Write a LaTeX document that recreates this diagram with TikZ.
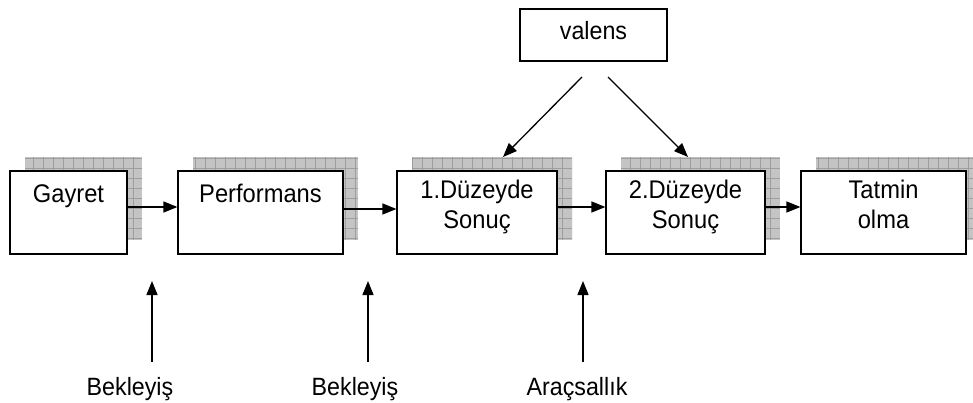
\documentclass[tikz,border=0pt]{standalone}
\usepackage{fontspec}
\setmainfont{Liberation Sans}[FakeStretch=0.93]
\usetikzlibrary{arrows.meta}
\definecolor{shadegray}{HTML}{C4C4C4}
\definecolor{shadeline}{HTML}{9E9E9E}
\newcommand\capstrut{\rule{0pt}{23pt}}
\tikzset{
  stagebox/.style={draw=black, line width=1.2pt, fill=white, minimum height=83pt, inner sep=0pt},
  shadebox/.style={fill=shadegray, minimum height=82pt, inner sep=0pt,
    path picture={\draw[shadeline, line width=0.7pt, step=10pt]
      (path picture bounding box.south west) grid (path picture bounding box.north east);}},
  caption/.style={font=\fontsize{25.5}{30}\selectfont, align=center, anchor=north,
    inner sep=0pt, execute at begin node=\capstrut},
  plainlabel/.style={font=\fontsize{25}{28}\selectfont, anchor=base, inner sep=0pt},
  flow/.style={line width=1.3pt, -{Triangle[length=14pt,width=11pt]}},
}
% #1 name, #2 centre x, #3 width, #4 caption
\newcommand\stage[4]{%
  \node[shadebox, minimum width=#3pt] (#1s) at (#2+15, 198.5) {};
  \node[stagebox, minimum width=#3pt] (#1) at (#2, 212.5) {};
  \node[caption] (#1t) at ([yshift=-9pt]#1.north) {#4};
}
\begin{document}
\begin{tikzpicture}[x=1pt, y=-1pt]
  \useasboundingbox (0,0) rectangle (973,403);
  \clip (0,0) rectangle (973,403);

  % process chain
  \stage{gay}{68.5}{117}{Gayret}
  \stage{perf}{260.5}{165}{Performans}
  \stage{first}{477}{160}{1.Düzeyde\\Sonuç}
  \stage{second}{685.5}{159}{2.Düzeyde\\Sonuç}
  \stage{sat}{883.5}{165}{Tatmin\\olma}

  \draw[flow] ([yshift=5.5pt]gay.east) -- ([yshift=5.5pt]perf.west);
  \draw[flow] ([yshift=3.5pt]perf.east) -- ([yshift=3.5pt]first.west);
  \draw[flow] ([yshift=5.5pt]first.east) -- ([yshift=5.5pt]second.west);
  \draw[flow] ([yshift=5.5pt]second.east) -- ([yshift=5.5pt]sat.west);

  % valence
  \node[draw=black, line width=1.2pt, minimum width=147pt, minimum height=52pt, inner sep=0pt]
    (val) at (593.5,35) {};
  \node[plainlabel] (valt) at (593.5,40) {valens};
  \coordinate (v1) at (582,77);
  \coordinate (v2) at (608,77);
  \coordinate (f1) at (503,157);
  \coordinate (f2) at (688,157);
  \draw[flow] (v1) -- (f1);
  \draw[flow] (v2) -- (f2);

  % influencing factors
  \node[plainlabel] (exp1) at (130,395) {Bekleyiş};
  \node[plainlabel] (exp2) at (355,395) {Bekleyiş};
  \node[plainlabel] (inst) at (577,395) {Araçsallık};
  \coordinate (b1) at (152,362);
  \coordinate (b2) at (368,362);
  \coordinate (b3) at (583,362);
  \coordinate (t1) at (152,281);
  \coordinate (t2) at (368,281);
  \coordinate (t3) at (583,281);
  \draw[flow] (b1) -- (t1);
  \draw[flow] (b2) -- (t2);
  \draw[flow] (b3) -- (t3);
\end{tikzpicture}
\end{document}
